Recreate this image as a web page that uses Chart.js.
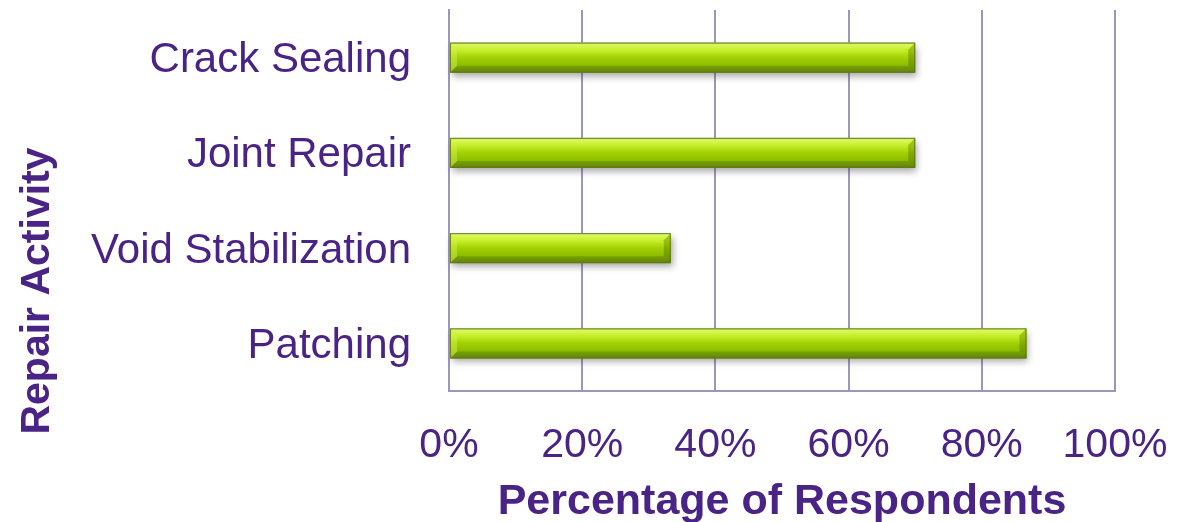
<!DOCTYPE html>
<html>
<head>
<meta charset="utf-8">
<script src="https://cdn.jsdelivr.net/npm/chart.js@4/dist/chart.umd.min.js"></script>
<style>
  html, body { margin: 0; padding: 0; background: #ffffff; }
  #wrap { width: 1184px; height: 522px; }
</style>
</head>
<body>
<div id="wrap"><canvas id="chart" width="1184" height="522"></canvas></div>
<script>
// Survey results: share of respondents performing each repair activity
const categories = ['Crack Sealing', 'Joint Repair', 'Void Stabilization', 'Patching'];
const percentValues = [70, 70, 33.3, 86.7];
const tickValues = [0, 20, 40, 60, 80, 100];
const yTitle = 'Repair Activity';
const xTitle = 'Percentage of Respondents';

const PURPLE = '#4a2386';
const GRID = '#9d95bb';
const FONT = "'Liberation Sans', Arial, sans-serif";

// Draws each bar as a bevelled green rod with a soft drop shadow
const bevelBars = {
  id: 'bevelBars',
  afterDatasetsDraw(chart) {
    const ctx = chart.ctx;
    const meta = chart.getDatasetMeta(0);
    meta.data.forEach((bar) => {
      const p = bar.getProps(['x', 'y', 'base', 'height'], true);
      const x0 = Math.min(p.base, p.x), x1 = Math.max(p.base, p.x);
      const y0 = p.y - p.height / 2, y1 = p.y + p.height / 2;
      const w = x1 - x0, h = y1 - y0;
      const b = Math.min(7, w / 3);

      // drop shadow
      ctx.save();
      ctx.shadowColor = 'rgba(60,60,60,0.45)';
      ctx.shadowBlur = 7;
      ctx.shadowOffsetX = 2;
      ctx.shadowOffsetY = 4;
      ctx.fillStyle = '#8ab400';
      ctx.fillRect(x0, y0, w, h);
      ctx.restore();

      // main face
      const g = ctx.createLinearGradient(0, y0, 0, y1);
      g.addColorStop(0, '#b4c878');
      g.addColorStop(0.08, '#d2f540');
      g.addColorStop(0.25, '#c6ee2a');
      g.addColorStop(0.5, '#a2d004');
      g.addColorStop(0.8, '#8aba00');
      g.addColorStop(1, '#70901a');
      ctx.fillStyle = g;
      ctx.fillRect(x0, y0, w, h);

      // top bevel strip
      const gt = ctx.createLinearGradient(0, y0, 0, y0 + b);
      gt.addColorStop(0, 'rgba(235,255,150,0.45)');
      gt.addColorStop(1, 'rgba(235,255,150,0)');
      ctx.fillStyle = gt;
      ctx.beginPath();
      ctx.moveTo(x0, y0); ctx.lineTo(x1, y0);
      ctx.lineTo(x1 - b, y0 + b); ctx.lineTo(x0 + b, y0 + b);
      ctx.closePath(); ctx.fill();

      // bottom bevel strip
      ctx.fillStyle = 'rgba(70,95,0,0.3)';
      ctx.beginPath();
      ctx.moveTo(x0, y1); ctx.lineTo(x1, y1);
      ctx.lineTo(x1 - b, y1 - b); ctx.lineTo(x0 + b, y1 - b);
      ctx.closePath(); ctx.fill();

      // right end bevel
      const gr = ctx.createLinearGradient(0, y0, 0, y1);
      gr.addColorStop(0, 'rgba(120,160,0,0.5)');
      gr.addColorStop(1, 'rgba(80,110,0,0.5)');
      ctx.fillStyle = gr;
      ctx.beginPath();
      ctx.moveTo(x1, y0); ctx.lineTo(x1, y1);
      ctx.lineTo(x1 - b, y1 - b); ctx.lineTo(x1 - b, y0 + b);
      ctx.closePath(); ctx.fill();

      // left end bevel
      ctx.fillStyle = 'rgba(210,245,80,0.45)';
      ctx.beginPath();
      ctx.moveTo(x0, y0); ctx.lineTo(x0, y1);
      ctx.lineTo(x0 + b, y1 - b); ctx.lineTo(x0 + b, y0 + b);
      ctx.closePath(); ctx.fill();

      // outline
      ctx.strokeStyle = 'rgba(95,115,25,0.85)';
      ctx.lineWidth = 1;
      ctx.strokeRect(x0 + 0.5, y0 + 0.5, w - 1, h - 1);
    });
  }
};

// Vertical axis title, drawn rotated along the left edge
const sideTitle = {
  id: 'sideTitle',
  afterDraw(chart) {
    const ctx = chart.ctx;
    ctx.save();
    ctx.translate(38, 291);
    ctx.rotate(-Math.PI / 2);
    ctx.fillStyle = PURPLE;
    ctx.font = 'bold 41px ' + FONT;
    ctx.textAlign = 'center';
    ctx.textBaseline = 'middle';
    ctx.fillText(yTitle, 0, 0);
    ctx.restore();
  }
};

new Chart(document.getElementById('chart'), {
  type: 'bar',
  data: {
    labels: categories,
    datasets: [{
      data: percentValues,
      backgroundColor: 'rgba(0,0,0,0)',
      borderWidth: 0,
      barThickness: 30
    }]
  },
  options: {
    indexAxis: 'y',
    responsive: false,
    animation: false,
    devicePixelRatio: 1,
    layout: { padding: { top: 10, right: 69, left: 0, bottom: 0 } },
    plugins: { legend: { display: false }, tooltip: { enabled: false } },
    scales: {
      x: {
        min: 0, max: 100,
        afterBuildTicks(scale) { scale.ticks = tickValues.map(v => ({ value: v })); },
        afterFit(scale) {
          scale.height = 131;
          scale.paddingLeft = 0; scale.paddingRight = 0;
        },
        grid: { color: GRID, lineWidth: 2, drawTicks: false },
        border: { color: GRID, width: 2 },
        ticks: {
          color: PURPLE,
          font: { family: FONT, size: 41 },
          padding: 30,
          maxRotation: 0,
          autoSkip: false,
          callback: (v) => v + '%'
        },
        title: {
          display: true,
          text: xTitle,
          color: PURPLE,
          font: { family: FONT, size: 43, weight: 'bold' },
          padding: { top: 0, bottom: -6 }
        }
      },
      y: {
        afterFit(scale) {
          scale.width = 449;
          scale.paddingTop = 0; scale.paddingBottom = 0;
        },
        grid: { display: false, drawTicks: false },
        border: { color: GRID, width: 2 },
        ticks: {
          color: PURPLE,
          font: { family: FONT, size: 42 },
          padding: 38,
          labelOffset: 3
        },
        title: { display: false }
      }
    }
  },
  plugins: [bevelBars, sideTitle]
});
</script>
</body>
</html>
